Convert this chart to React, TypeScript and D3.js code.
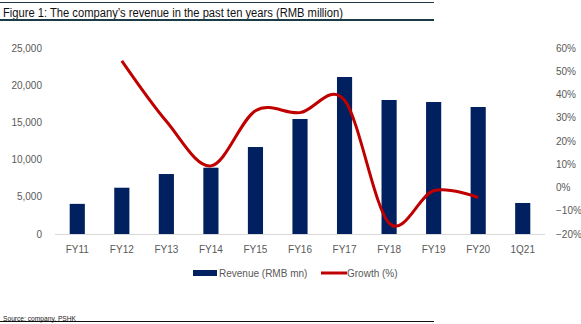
import React from "react";
import * as d3 from "d3";

const categories = ["FY11", "FY12", "FY13", "FY14", "FY15", "FY16", "FY17", "FY18", "FY19", "FY20", "1Q21"];
const revenue = [4050, 6220, 8060, 8910, 11690, 15460, 21100, 18010, 17740, 17070, 4170];
const growthCats = ["FY12", "FY13", "FY14", "FY15", "FY16", "FY17", "FY18", "FY19", "FY20"];
const growth = [0.545, 0.285, 0.093, 0.33, 0.322, 0.375, -0.153, -0.014, -0.043];
const leftTicks = [0, 5000, 10000, 15000, 20000, 25000];
const rightTicks = [-0.2, -0.1, 0, 0.1, 0.2, 0.3, 0.4, 0.5, 0.6];

const W = 581;
const H = 324;
const font = "'Liberation Sans', Arial, sans-serif";
const navy = "#002060";
const red = "#c00000";
const axisText = "#595959";

export default function App() {
  const x = d3.scaleBand<string>().domain(categories).range([55, 545]).paddingInner(0.66).paddingOuter(0.33);
  const yL = d3.scaleLinear().domain([0, 25000]).range([234, 48]);
  const yR = d3.scaleLinear().domain([-0.2, 0.6]).range([234, 48]);
  const fmt = d3.format(",");
  const pct = d3.format(".0%");
  const line = d3
    .line<number>()
    .x((_, i) => (x(growthCats[i]) as number) + x.bandwidth() / 2)
    .y((d) => yR(d))
    .curve(d3.curveCatmullRom.alpha(0));

  return (
    <svg width={W} height={H} style={{ position: "absolute", left: 0, top: 0, background: "#fff" }} fontFamily={font}>
      <line x1={0} x2={434} y1={2.5} y2={2.5} stroke="#1f3a44" strokeWidth={1} />
      <text x={3} y={17} fontSize={12.5} fill="#111" textLength={340} lengthAdjust="spacingAndGlyphs">
        Figure 1: The company’s revenue in the past ten years (RMB million)
      </text>
      <line x1={0} x2={434} y1={20} y2={20} stroke="#1b3c46" strokeWidth={2.2} />

      {leftTicks.map((t) => (
        <text key={"l" + t} x={42} y={yL(t)} dy="0.35em" textAnchor="end" fontSize={10} fill={axisText}>
          {fmt(t)}
        </text>
      ))}
      {rightTicks.map((t) => (
        <text key={"r" + t} x={556} y={yR(t)} dy="0.35em" textAnchor="start" fontSize={10} fill={axisText}>
          {pct(t)}
        </text>
      ))}

      {categories.map((c, i) => (
        <rect key={c} x={x(c)} y={yL(revenue[i])} width={x.bandwidth()} height={yL(0) - yL(revenue[i])} fill={navy} />
      ))}
      <line x1={55} x2={545} y1={234.5} y2={234.5} stroke="#d9d9d9" strokeWidth={1} />

      {categories.map((c) => (
        <text key={"x" + c} x={(x(c) as number) + x.bandwidth() / 2} y={249} dy="0.35em" textAnchor="middle" fontSize={10} fill={axisText}>
          {c}
        </text>
      ))}

      <path d={line(growth) || ""} fill="none" stroke={red} strokeWidth={3} strokeLinejoin="round" />

      <rect x={193} y={270} width={24} height={6} fill={navy} />
      <text x={219} y={273} dy="0.35em" fontSize={10} fill={axisText}>
        Revenue (RMB mn)
      </text>
      <line x1={321} x2={347} y1={273} y2={273} stroke={red} strokeWidth={3} />
      <text x={347} y={273} dy="0.35em" fontSize={10} fill={axisText}>
        Growth (%)
      </text>

      <text x={3} y={318} dy="0.35em" fontSize={8} fill="#222" textLength={73} lengthAdjust="spacingAndGlyphs">
        Source: company, PSHK
      </text>
      <line x1={0} x2={434} y1={321.5} y2={321.5} stroke="#111" strokeWidth={1} />
    </svg>
  );
}
